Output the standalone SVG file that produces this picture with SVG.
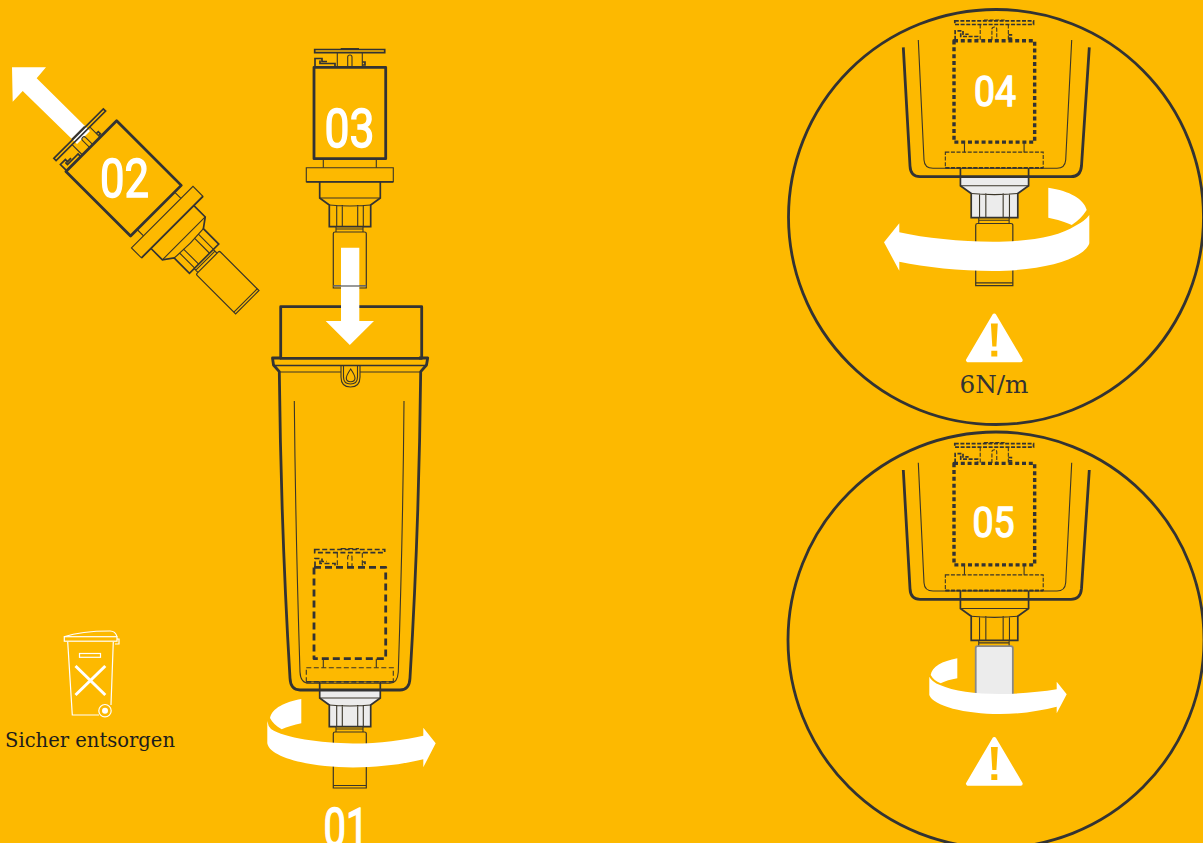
<svg xmlns="http://www.w3.org/2000/svg" xmlns:xlink="http://www.w3.org/1999/xlink" width="1203" height="843" viewBox="0 0 1203 843">
<style>
.l{fill:none;stroke:#3a3528;stroke-width:1.1;vector-effect:non-scaling-stroke}
.m{fill:none;stroke:#333;stroke-width:1.7;vector-effect:non-scaling-stroke}
.h{fill:none;stroke:#333;stroke-width:2.8;vector-effect:non-scaling-stroke;stroke-linejoin:round}
.d{stroke-dasharray:var(--d,none)}
.bd{stroke-dasharray:var(--bd,none);stroke-width:var(--bw,2.8)}
.nut{fill:var(--n,none)}
.tube{fill:var(--t,none);stroke:var(--ts,#3a3528);stroke-width:var(--tw,1.2)}
.w{fill:#fff}
.y{fill:#FDB900}
.num{font-family:"Roboto",sans-serif;fill:#fff;stroke:#fff;stroke-width:1.4;text-anchor:middle}
.big{font-size:53px}
.mid{font-size:42px}
.ser{font-family:"DejaVu Serif",serif}
.bin{fill:none;stroke:#fff;stroke-width:1.2}
</style>
<defs>
<g id="cap">
<rect class="m d" x="314.7" y="49.5" width="70" height="3.2"/>
<path class="l d" d="M340.7 48.6H359M337.3 52.7V67M362.3 52.7V67M347.7 67V57Q347.7 55 350 55Q352 55 352 57V67"/>
<path class="m d" d="M315 66.5V58.5H322V61.5H327M320 60.5V63.5H335V66.5M362.3 62H365V65H362.3"/>
<rect class="h bd" x="314" y="67.3" width="71.7" height="91.4"/>
<path class="l" d="M323.3 158.7V167.7M376.3 158.7V167.7"/>
<rect class="l d" x="306.3" y="167.7" width="87" height="14"/>
<path class="m d" d="M306.3 181.9H393.3"/>
</g>
<g id="lower">
<path class="nut" d="M319.7 190H380.3V198L370.7 205V226.7H329.3V205L319.7 198Z"/>
<path class="m" d="M319.7 182V198L329.3 205V226.7H370.7V205L380.3 198V182"/>
<path class="l" d="M319.7 198H380.3M329.3 205Q350 207 370.7 205M336.7 205V226.7M342.3 205V226.7M357.7 205V226.7M363.3 205V226.7M336 226.7V232M363 226.7V232M336 229H363"/>
<path class="tube" d="M333.3 233.5Q333.3 232 335 232H364.5Q366.3 232 366.3 233.5V288H333.3Z" vector-effect="non-scaling-stroke"/>
<path class="l" d="M333.3 285.5H366.3"/>
</g>
<g id="wall">
<path class="h" d="M903.3 47.3L910 166Q910.5 176.7 920 176.7H1071Q1080.5 176.7 1081.5 166L1089.3 47.3"/>
<path class="l" d="M918.3 40L924 160Q924.5 168.3 933 168.3H1057Q1065 168.3 1065.7 160L1071.7 40"/>
</g>
<g id="warn">
<path class="w" stroke="#fff" stroke-width="4" stroke-linejoin="round" d="M994.3 739L968 783.7H1020.7Z"/>
<path class="y" d="M990.9 747H997.8L996.4 770H992.3ZM991.3 774.3H997.3V780H991.3Z"/>
</g>
</defs>
<rect width="1203" height="843" fill="#FDB900"/>
<g id="lens-04"><circle class="h" cx="996" cy="217" r="207.5"/></g>
<g id="lens-05"><circle class="h" cx="996" cy="640" r="208"/></g>

<g id="step-01" style="--d:5 2.5;--bd:7 4;--n:#ececec">
<use href="#lower" y="500"/>
<use href="#cap" y="500"/>
</g>
<g id="container">
<rect class="h" x="280.7" y="306.7" width="141" height="51.6"/>
<path class="h" d="M281 358H272.5L273.5 365L279.3 371.7Q281 530 290 678Q290.5 690 300 690H400Q409.5 690 410 678Q419 530 420.7 371.7L426.5 365L427.7 358H419"/>
<path class="m" d="M274 365.5H426"/>
<path class="l" d="M279.3 372H341M360 372H420.7"/>
<path class="l" d="M341 365.5V377Q341 387 350.5 387Q360 387 360 377V365.5M343.5 365.5V377Q343.5 384 350.5 384Q357.5 384 357.5 377V365.5"/>
<path class="l" d="M350.7 369Q346.3 375.5 346.3 378Q346.3 381.7 350.7 381.7Q355 381.7 355 378Q355 375.5 350.7 369Z"/>
<path class="l" d="M294.3 401Q295.5 530 300 672Q300.5 683.3 309 683.3H390Q397.5 683.3 398.3 672Q403 530 404 401"/>
</g>
<g id="step-03">
<use href="#lower"/>
<use href="#cap"/>
</g>
<g id="step-04" style="--d:4 1.6;--bd:4 2.8;--bw:3.4;--n:#ececec">
<use href="#lower" transform="translate(600.75 -34) scale(1.125 1.11)"/>
<use href="#cap" transform="translate(600.75 -34) scale(1.125 1.11)"/>
<use href="#wall"/>
</g>
<g id="step-05" style="--d:4 1.6;--bd:4 2.8;--bw:3.4;--t:#ececec;--ts:#888;--tw:1.8">
<use href="#lower" transform="translate(600.75 388.7) scale(1.125 1.11)"/>
<use href="#cap" transform="translate(600.75 388.7) scale(1.125 1.11)"/>
<use href="#wall" y="422.7"/>
</g>

<g id="connectors">
<path class="w" d="M341 247.7H359.3V321H374L349.8 345L325.7 321H341Z"/>
<path d="M333.3 286H366.3" stroke="#777" stroke-width="1.6" fill="none"/>
<g id="arrow-rotate-01">
<path class="w" d="M301.3 699C285 702 272 708 270 718C272 722 276 726 281.7 729.3C287 727 294 725 301.3 723.3Z"/>
<path class="w" d="M267.3 721V743.3C270 758 310 767 353 767.5C380 767 405 764 423.3 759.3V767.3L435.7 743.3L423.3 727.7V735.7C405 740 380 743.5 353 743.5C320 743 285 738 271 729Q268 726 267.3 721Z"/>
</g>
<g id="arrow-rotate-04">
<path class="w" d="M1048.3 187.7C1070 191 1084 199 1086.7 210C1083 216 1078 221 1071.7 225C1066 222 1057 219.5 1048.3 217.7Z"/>
<path class="w" d="M1089.3 215V243.3C1085 258 1045 271 993 271C960 271 925 267 899.3 261.7V270.7L884 242.3L899.3 223.3V232.3C925 238 960 241.7 993 241.7C1030 241.7 1060 236 1075 226Q1085 221 1089.3 215Z"/>
</g>
<g id="arrow-rotate-05">
<path class="w" d="M957.3 658.3C942 661 932 667 930.7 675C933 679 936 681.5 940.7 683.3C945 681 951 679.5 957.3 678.3Z"/>
<path class="w" d="M929.3 676.7V695C933 706 965 714 1000 714C1020 714 1040 711 1056.7 706.7V713.3L1066.7 694.3L1056.7 681.7V689.3C1040 692 1020 694 1000 694C975 694 953 691 940 685Q932 682 929.3 676.7Z"/>
</g>
</g>

<g id="step-02">
<path class="w" d="M12 67.3H46L36.7 78.3L90 131L77 144L22.7 91L12.7 101.7Z"/>
<use href="#lower" transform="translate(123.7 178.3) rotate(-45) translate(-350 -113)"/>
<use href="#cap" transform="translate(123.7 178.3) rotate(-45) translate(-350 -113)"/>
<text class="num big" x="124.5" y="196.5" textLength="49" lengthAdjust="spacingAndGlyphs">02</text>
</g>

<g id="warn-04"><use href="#warn" y="-423.5"/></g>
<g id="warn-05"><use href="#warn"/></g>

<g id="bin">
<path class="bin" d="M64 636.7C75 633 95 631 110 631C113 631 116 633 117 636.7"/>
<rect class="bin" x="64.3" y="636.7" width="52.7" height="4.5"/>
<path class="bin" d="M117 639H119V644H115"/>
<path class="bin" d="M67.7 641.7L72.3 715H99M113.3 641.7L111 705"/>
<rect class="bin" x="79.5" y="653.5" width="21" height="3.8"/>
<path d="M75.5 666L105.3 695M105.3 666L75.5 695" fill="none" stroke="#fff" stroke-width="3"/>
<circle cx="105" cy="710.7" r="6.2" fill="#FDB900" stroke="#fff" stroke-width="1.2"/>
<circle class="w" cx="105" cy="710.7" r="3"/>
</g>

<g id="labels">
<text class="num big" x="346" y="846" textLength="45" lengthAdjust="spacingAndGlyphs">01</text>
<text class="num big" x="349.5" y="146.5" textLength="50" lengthAdjust="spacingAndGlyphs">03</text>
<text class="num mid" x="995" y="105.5" textLength="42" lengthAdjust="spacingAndGlyphs">04</text>
<text class="num mid" x="993.5" y="536.5" textLength="42" lengthAdjust="spacingAndGlyphs">05</text>
<text class="ser" x="959.5" y="393" font-size="24" fill="#333" textLength="69" lengthAdjust="spacingAndGlyphs">6N/m</text>
<text class="ser" x="5" y="747" font-size="20" fill="#1c1c1c" textLength="170" lengthAdjust="spacingAndGlyphs">Sicher entsorgen</text>
</g>
</svg>
